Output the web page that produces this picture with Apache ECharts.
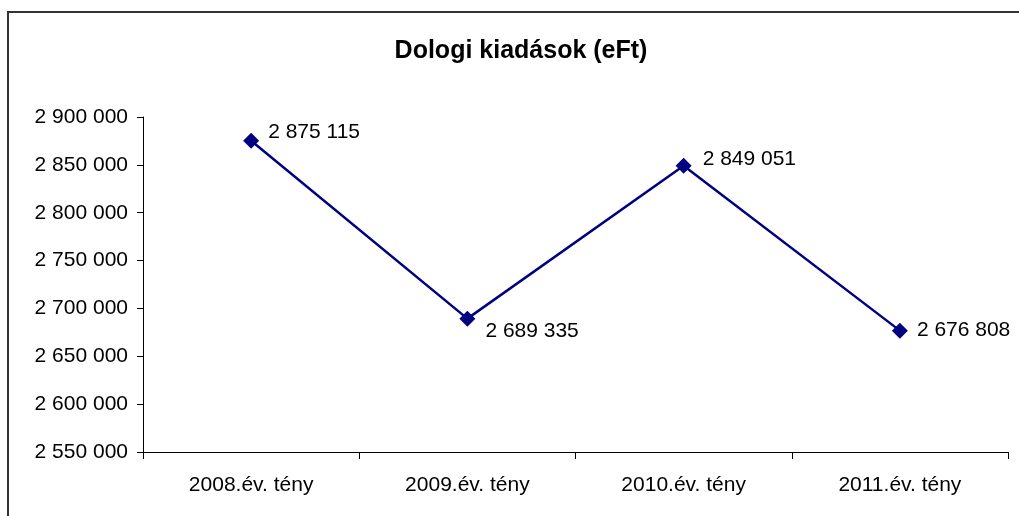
<!DOCTYPE html>
<html>
<head>
<meta charset="utf-8">
<script src="https://cdn.jsdelivr.net/npm/echarts@6/dist/echarts.min.js"></script>
<style>
  html, body { margin: 0; padding: 0; background: #fff; }
  #main { width: 1019px; height: 516px; }
</style>
</head>
<body>
<div id="main"></div>
<script>
// adatok
var categories = ['2008.év. tény', '2009.év. tény', '2010.év. tény', '2011.év. tény']
var values = [2875115, 2689335, 2849051, 2676808]
// label offsets as they sit in the original picture
var labelOffsets = [[9, -9], [10, 13], [11, -7], [9, 0]]

function fmt(v) {
  return String(Math.round(v)).replace(/\B(?=(\d{3})+(?!\d))/g, ' ')
}

var myChart = echarts.init(document.getElementById('main'))

var seriesData = values.map(function(v, i) {
  return {
    value: v,
    label: { offset: labelOffsets[i] }
  }
})

var option = {
  animation: false,
  textStyle: { fontFamily: 'Liberation Sans, Arial, sans-serif' },
  title: {
    text: 'Dologi kiadások (eFt)',
    left: 516,
    top: 34,
    textAlign: 'center',
    textStyle: {
      fontFamily: 'Liberation Sans, Arial, sans-serif',
      fontSize: 25,
      fontWeight: 'bold',
      color: '#000'
    }
  },
  graphic: [{
    type: 'rect',
    shape: { x: 8, y: 12, width: 1100, height: 600 },
    style: { fill: 'none', stroke: '#333', lineWidth: 2 },
    silent: true
  }],
  grid: {
    left: 143,
    right: 11,
    top: 117,
    bottom: 64
  },
  xAxis: {
    type: 'category',
    data: categories,
    boundaryGap: true,
    axisLine: { lineStyle: { color: '#000', width: 1 } },
    axisTick: { show: true, length: 7, inside: false, alignWithLabel: false, lineStyle: { color: '#000' } },
    axisLabel: { color: '#000', fontSize: 21, margin: 23 }
  },
  yAxis: {
    type: 'value',
    min: 2550000,
    max: 2900000,
    interval: 50000,
    axisLine: { show: true, lineStyle: { color: '#000', width: 1 } },
    axisTick: { show: true, length: 6, lineStyle: { color: '#000' } },
    splitLine: { show: false },
    axisLabel: {
      color: '#000',
      fontSize: 21,
      margin: 15,
      formatter: function(v) { return fmt(v) }
    }
  },
  series: [{
    name: 'Dologi kiadások',
    type: 'line',
    data: seriesData,
    symbol: 'diamond',
    symbolSize: 16,
    lineStyle: { color: '#000080', width: 2.5 },
    itemStyle: { color: '#000080' },
    label: {
      show: true,
      position: 'right',
      distance: 0,
      color: '#000',
      fontSize: 21,
      formatter: function(p) { return fmt(p.value) }
    }
  }]
}

myChart.setOption(option)
</script>
</body>
</html>
